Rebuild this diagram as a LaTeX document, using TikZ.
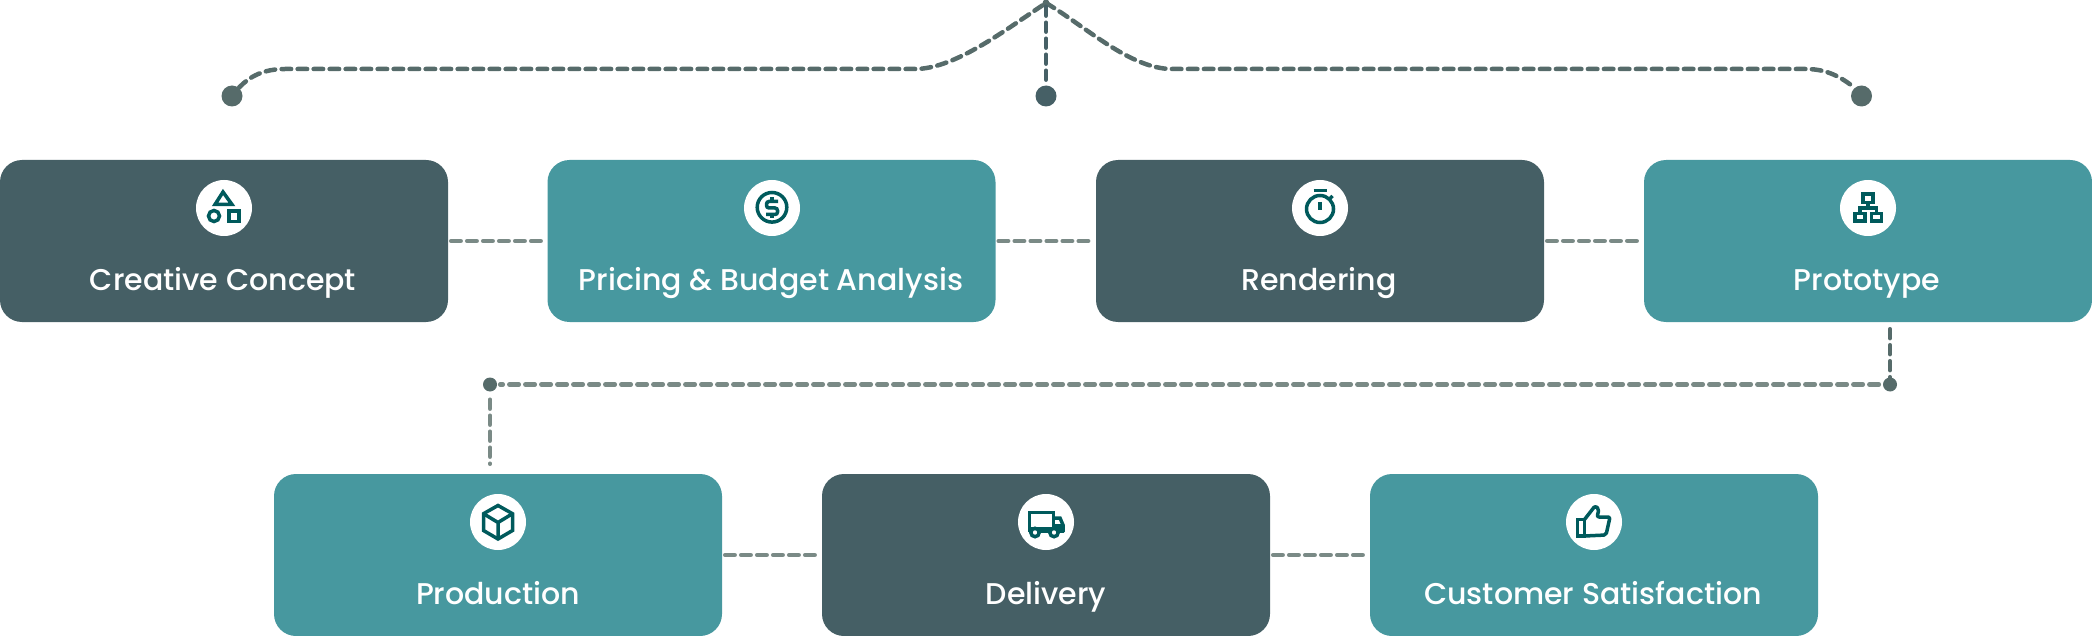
\documentclass[tikz,border=0pt]{standalone}
\usepackage{fontspec}
\setmainfont{Poppins Medium}
\definecolor{slatebox}{HTML}{455F65}
\definecolor{tealbox}{HTML}{47989F}
\definecolor{icongreen}{HTML}{005A5C}
\definecolor{linedark}{HTML}{566B6A}
\definecolor{linelight}{HTML}{7A8A86}
\definecolor{dotdark}{HTML}{466066}
\tikzset{
  x=1pt, y=-1pt,
  panel/.style={rectangle, rounded corners=22pt, minimum width=448pt, minimum height=162pt, inner sep=0pt, draw=none},
  slatepanel/.style={panel, fill=slatebox},
  tealpanel/.style={panel, fill=tealbox},
  caption/.style={anchor=base, text=white, font=\fontsize{30}{34}\selectfont, inner sep=0pt},
  badge/.style={circle, fill=white, minimum size=56pt, inner sep=0pt, draw=none},
  pin/.style={circle, fill=linedark, minimum size=21pt, inner sep=0pt, draw=none},
  smallpin/.style={circle, fill=linedark, minimum size=14pt, inner sep=0pt, draw=none},
  tiptop/.style={circle, fill=linedark, minimum size=7pt, inner sep=0pt, draw=none},
  dashlink/.style={line width=4.5pt, line cap=round, dash pattern=on 9.5pt off 6.5pt},
  longdash/.style={line width=4.5pt, line cap=round, dash pattern=on 9pt off 7pt},
  glyph/.style={draw=icongreen, line width=3.5pt, line join=miter},
}
\begin{document}
\begin{tikzpicture}
\useasboundingbox (0,0) rectangle (2092,636);

% first row of panels
\node[slatepanel] (concept) at (224,241) {};
\node[tealpanel] (pricing) at (771.5,241) {};
\node[slatepanel] (rendering) at (1320,241) {};
\node[tealpanel] (prototype) at (1868,241) {};
% second row of panels
\node[tealpanel] (production) at (498,555) {};
\node[slatepanel] (delivery) at (1046,555) {};
\node[tealpanel] (satisfaction) at (1594,555) {};

% captions
\node[caption] (t1) at (223,290) {Creative Concept};
\node[caption] (t2) at (771,290) {Pricing \& Budget Analysis};
\node[caption] (t3) at (1319,290) {Rendering};
\node[caption] (t4) at (1867,290) {Prototype};
\node[caption] (t5) at (498,604) {Production};
\node[caption] (t6) at (1046,604) {Delivery};
\node[caption] (t7) at (1593,604) {Customer Satisfaction};

% white badges behind the icons
\node[badge] (b1) at (224,208) {};
\node[badge] (b2) at (772,208) {};
\node[badge] (b3) at (1320,208) {};
\node[badge] (b4) at (1868,208) {};
\node[badge] (b5) at (498,522) {};
\node[badge] (b6) at (1046,522) {};
\node[badge] (b7) at (1594,522) {};

% top bracket
\node[pin] (pinL) at (232,96) {};
\node[pin, fill=dotdark] (pinM) at (1046,96) {};
\node[pin] (pinR) at (1861.5,96) {};
\node[tiptop] (apex) at (1046,3) {};
\draw[linedark, dashlink] (pinL.50) .. controls (250,76) and (264,69) .. (285,69)
  -- (915,69) .. controls (955,69) and (1005,30) .. (apex.center);
\draw[linedark, dashlink] (apex.center) .. controls (1085,26) and (1130,69) .. (1172,69)
  -- (1806,69) .. controls (1828,69) and (1842,78) .. (pinR.130);
\draw[dotdark, longdash] (apex) -- (pinM);

% links between neighbouring panels
\foreach \a/\b in {concept/pricing, pricing/rendering, rendering/prototype, production/delivery, delivery/satisfaction}
  \draw[linelight, dashlink, shorten <=3pt, shorten >=1.5pt] (\a) -- (\b);

% link from the first row down to the second
\node[smallpin] (turnR) at (1890,384.5) {};
\node[smallpin] (turnL) at (490,384.5) {};
\draw[linedark, longdash, shorten <=7pt] (turnR |- prototype.south) -- (turnR);
\draw[linelight, dashlink, shorten <=4pt, shorten >=3pt] (turnR) -- (turnL);
\draw[linelight, longdash, shorten <=8pt, shorten >=10pt] (turnL) -- (turnL |- production.north);

% icon: triangle, circle and square
\begin{scope}[shift={(b1.center)}]
  \draw[glyph] (-1,-16) -- (-9,-3.5) -- (8,-3.5) -- cycle;
  \draw[glyph] (-10,8) circle[radius=5.5];
  \draw[glyph] (5,3) rectangle (15,13.5);
\end{scope}

% icon: dollar coin
\begin{scope}[shift={(b2.center)}]
  \draw[glyph] (0,-0.7) circle[radius=14.8];
  \draw[glyph, rounded corners=2.5pt] (6,-6.5) -- (-5.5,-6.5) -- (-5.5,0) -- (5.5,0) -- (5.5,6.5) -- (-6,6.5);
  \draw[glyph] (0,-10.5) -- (0,-6.5) (0,6.5) -- (0,10);
\end{scope}

% icon: stopwatch
\begin{scope}[shift={(b3.center)}]
  \draw[glyph] (0,1) circle[radius=13.5];
  \draw[glyph] (-6.5,-17.5) -- (6.5,-17.5);
  \draw[glyph] (0,-6) -- (0,2.5);
  \draw[glyph] (9.5,-9) -- (12.5,-12);
\end{scope}

% icon: organisation chart
\begin{scope}[shift={(b4.center)}]
  \draw[glyph] (-5,-14) rectangle (5,-5.5);
  \draw[glyph] (-13,5.5) rectangle (-3,13);
  \draw[glyph] (3.5,5.5) rectangle (13.5,13);
  \draw[glyph] (0,-5) -- (0,0) (-8,4.5) -- (-8,0) -- (8.5,0) -- (8.5,4.5);
\end{scope}

% icon: cube
\begin{scope}[shift={(b5.center)}]
  \draw[glyph] (0,-16.5) -- (14.5,-8.3) -- (14.5,8.5) -- (0,17) -- (-14.5,8.5) -- (-14.5,-8.3) -- cycle;
  \draw[glyph] (-14.5,-8.3) -- (0,0.5) -- (14.5,-8.3) (0,0.5) -- (0,17);
\end{scope}

% icon: delivery truck
\begin{scope}[shift={(b6.center)}]
  \fill[icongreen] (-17.5,5) rectangle (18,11);
  \draw[glyph] (-16.5,10) -- (-16.5,-9.5) -- (7.5,-9.5) -- (7.5,10);
  \draw[glyph] (7.5,-4) -- (14,-4) -- (17,3) -- (17,10);
  \fill[icongreen] (7.5,2) rectangle (17,6);
  \draw[glyph, fill=white] (-11,10.5) circle[radius=4.2];
  \draw[glyph, fill=white] (8,10.5) circle[radius=4.2];
\end{scope}

% icon: thumbs up
\begin{scope}[shift={(b7.center)}]
  \draw[glyph] (-16.5,-2.5) rectangle (-9.5,14);
  \draw[glyph, line join=round, rounded corners=2pt] (-9.5,-2.5) -- (1,-16) -- (5,-13) -- (3,-5) -- (16,-5) -- (12,13) -- (-9.5,14);
\end{scope}
\end{tikzpicture}
\end{document}
